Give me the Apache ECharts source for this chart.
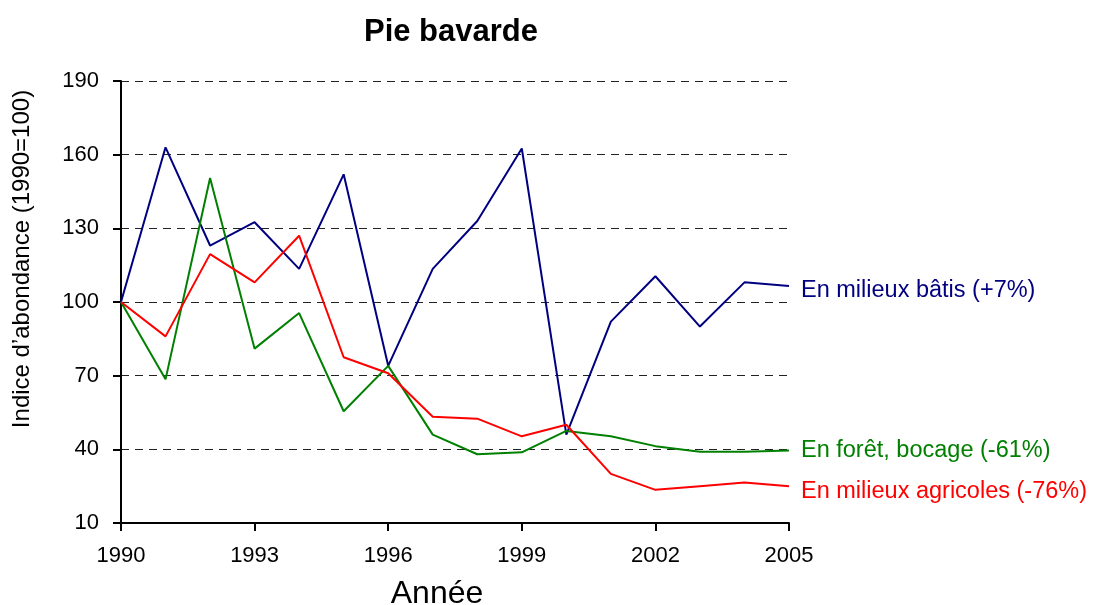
<!DOCTYPE html>
<html>
<head>
<meta charset="utf-8">
<script src="https://cdn.jsdelivr.net/npm/echarts@6/dist/echarts.min.js"></script>
<style>
  html, body { margin: 0; padding: 0; background: #fff; }
  #chart { width: 1095px; height: 605px; }
</style>
</head>
<body>
<div id="chart"></div>
<script>
var years = ['1990', '1991', '1992', '1993', '1994', '1995', '1996', '1997',
  '1998', '1999', '2000', '2001', '2002', '2003', '2004', '2005'];

var batis = [100, 163, 123, 132.5, 113.5, 152, 74, 113.5, 133, 162.5, 46, 92, 110.5, 90, 108, 106.5];
var foret = [100, 68.5, 150.5, 81, 95.5, 55.5, 74, 46, 38, 38.8, 47.5, 45.3, 41.3, 39, 39, 39.5];
var agricoles = [100, 86, 119.5, 108, 127, 77.5, 71, 53.3, 52.5, 45.3, 50, 30, 23.5, 25, 26.5, 25];

var seriesNames = ['En milieux bâtis (+7%)', 'En forêt, bocage (-61%)', 'En milieux agricoles (-76%)'];

var font = 'Liberation Sans, Arial, sans-serif';

var myChart = echarts.init(document.getElementById('chart'));

function makeSeries(name, data, color, dy) {
    return {
        name: name,
        type: 'line',
        data: data,
        symbol: 'none',
        animation: false,
        lineStyle: { color: color, width: 2 },
        itemStyle: { color: color },
        endLabel: {
            show: true,
            formatter: '{a}',
            color: color,
            fontFamily: font,
            fontSize: 23.5,
            distance: 12,
            offset: [0, dy]
        }
    };
}

var option = {
    backgroundColor: '#fff',
    title: {
        text: 'Pie bavarde',
        left: 446,
        top: 12,
        textAlign: 'center',
        textStyle: {
            fontFamily: font,
            fontSize: 31,
            fontWeight: 'bold',
            color: '#000'
        }
    },
    // axis titles placed as free text, they are off-centre in the original
    graphic: [
        {
            type: 'text',
            x: 22,
            y: 259,
            rotation: Math.PI / 2,
            style: {
                text: 'Indice d\u2019abondance (1990=100)',
                fontFamily: font,
                fontSize: 24,
                fill: '#000',
                textAlign: 'center',
                textVerticalAlign: 'middle'
            }
        },
        {
            type: 'text',
            x: 437,
            y: 594,
            style: {
                text: 'Année',
                fontFamily: font,
                fontSize: 32,
                fill: '#000',
                textAlign: 'center',
                textVerticalAlign: 'middle'
            }
        }
    ],
    grid: {
        left: 121,
        right: 306,
        top: 81,
        bottom: 82
    },
    xAxis: {
        type: 'category',
        data: years,
        boundaryGap: false,
        axisLine: { lineStyle: { color: '#000', width: 2 } },
        axisTick: { interval: 2, length: 8, lineStyle: { color: '#000', width: 2 } },
        axisLabel: {
            interval: 2,
            fontFamily: font,
            fontSize: 22,
            color: '#000',
            margin: 22
        },
        splitLine: { show: false }
    },
    yAxis: {
        type: 'value',
        min: 10,
        max: 190,
        interval: 30,
        axisLine: { show: true, lineStyle: { color: '#000', width: 2 } },
        axisTick: { show: true, length: 8, lineStyle: { color: '#000', width: 2 } },
        axisLabel: {
            fontFamily: font,
            fontSize: 22,
            color: '#000',
            margin: 22
        },
        splitLine: {
            show: true,
            lineStyle: { color: '#222', width: 1, type: [8, 6] }
        }
    },
    series: [
        makeSeries(seriesNames[0], batis, '#000080', 4),
        makeSeries(seriesNames[1], foret, '#008000', 0),
        makeSeries(seriesNames[2], agricoles, '#ff0000', 5)
    ]
};

myChart.setOption(option, true);
</script>
</body>
</html>
